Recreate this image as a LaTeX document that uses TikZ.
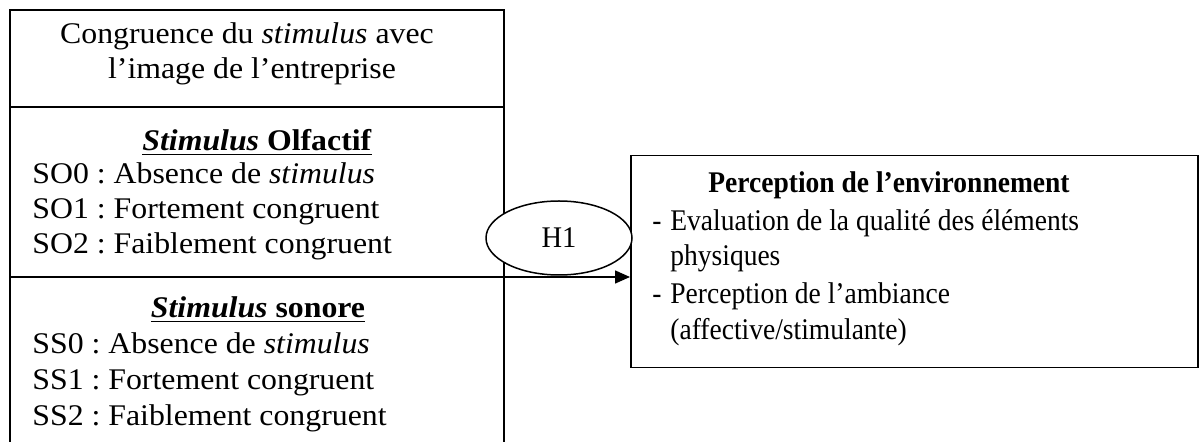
\documentclass[tikz,border=0pt]{standalone}
\usepackage{fontspec}
\setmainfont{Liberation Serif}
\newfontfamily\leftfont[FakeStretch=1.06]{Liberation Serif}
\newfontfamily\rightfont[FakeStretch=0.917]{Liberation Serif}
\newfontfamily\hypfont[FakeStretch=0.95]{Liberation Serif}
\usetikzlibrary{arrows.meta,shapes.geometric}
\frenchspacing
\tikzset{
  frame/.style={line width=0.75pt},
  thickline/.style={line width=1.3pt},
  lefttxt/.style={inner sep=0pt, font=\frenchspacing\leftfont\fontsize{15pt}{18pt}\selectfont},
  righttxt/.style={inner sep=0pt, font=\frenchspacing\rightfont\fontsize{15pt}{18pt}\selectfont},
  hyp/.style={ellipse, draw, line width=0.75pt, fill=white, inner sep=0pt,
    minimum width=73pt, minimum height=37pt, font=\hypfont\fontsize{15pt}{18pt}\selectfont},
  envbox/.style={draw, line width=0.75pt, inner sep=0pt, anchor=north west,
    minimum width=283.5pt, minimum height=106pt},
  arrowline/.style={line width=0.75pt, -{Triangle[length=7.5pt,width=6.5pt]}}
}
\begin{document}
\begin{tikzpicture}[x=0.5pt,y=-0.5pt]
\useasboundingbox (0,0) rectangle (1199,442);
\fill[white] (0,0) rectangle (1199,442);
% left box frame
\draw[frame] (10,442) -- (10,10) -- (504,10) -- (504,442);
\draw[frame] (10,107) -- (504,107);
\draw[thickline] (10,277) -- (504,277);
% left box texts
\node[lefttxt, anchor=base] (c1) at (247,44) {Congruence du \emph{stimulus} avec};
\node[lefttxt, anchor=base] (c2) at (252,79) {l’image de l’entreprise};
\node[lefttxt, anchor=base] (olf) at (257,151) {\underline{\textbf{\emph{Stimulus} Olfactif}}};
\node[lefttxt, anchor=base west] (so0) at (32,184) {SO0 : Absence de \emph{stimulus}};
\node[lefttxt, anchor=base west] (so1) at (32,219) {SO1 : Fortement congruent};
\node[lefttxt, anchor=base west] (so2) at (32,254) {SO2 : Faiblement congruent};
\node[lefttxt, anchor=base] (son) at (258,318) {\underline{\textbf{\emph{Stimulus} sonore}}};
\node[lefttxt, anchor=base west] (ss0) at (32,354) {SS0 : Absence de \emph{stimulus}};
\node[lefttxt, anchor=base west] (ss1) at (32,390) {SS1 : Fortement congruent};
\node[lefttxt, anchor=base west] (ss2) at (32,426) {SS2 : Faiblement congruent};
% right box
\node[envbox] (env) at (630,155) {};
\node[righttxt, anchor=base] (envt) at (889,193) {\textbf{Perception de l’environnement}};
\node[righttxt, anchor=base west] (d1) at (652,231) {-};
\node[righttxt, anchor=base west] (e1) at (670,231) {Evaluation de la qualité des éléments};
\node[righttxt, anchor=base west] (e2) at (670,266) {physiques};
\node[righttxt, anchor=base west] (d2) at (652,304) {-};
\node[righttxt, anchor=base west] (e3) at (670,304) {Perception de l’ambiance};
\node[righttxt, anchor=base west] (e4) at (670,340) {(affective/stimulante)};
% hypothesis
\node[hyp] (h1) at (559,238) {H1};
\coordinate (src) at (504,277);
\draw[arrowline] (src) -- (src -| env.west);
\end{tikzpicture}
\end{document}
